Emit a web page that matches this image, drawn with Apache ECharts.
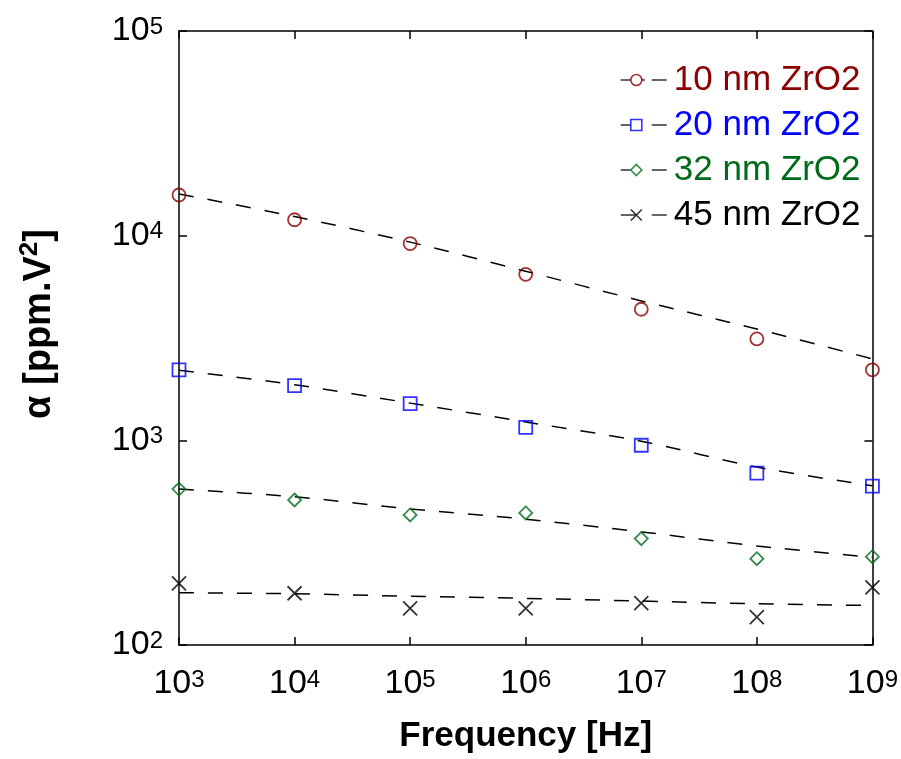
<!DOCTYPE html>
<html>
<head>
<meta charset="utf-8">
<script src="https://cdn.jsdelivr.net/npm/echarts@6/dist/echarts.min.js"></script>
<style>html,body{margin:0;padding:0;background:#fff;overflow:hidden;}#c{width:901px;height:759px;}</style>
</head>
<body>
<div id="c"></div>
<script>
const freqs = [1e3, 1e4, 1e5, 1e6, 1e7, 1e8, 1e9];
const seriesNames = ['10 nm ZrO2', '20 nm ZrO2', '32 nm ZrO2', '45 nm ZrO2'];
const colors = ['#8b0000', '#0000ff', '#006b1a', '#000000'];
const pts10 = [15800, 11960, 9150, 6470, 4370, 3130, 2210];
const pts20 = [2210, 1850, 1510, 1157, 946, 691, 598];
const pts32 = [578, 511, 432, 442, 331, 264, 270];
const pts45 = [200, 179, 151, 151, 160, 137, 191];
const fit10 = [16000, 12400, 9300, 6700, 4800, 3500, 2500];
const fit20 = [2200, 1870, 1520, 1230, 990, 740, 600];
const fit32 = [578, 530, 462, 412, 357, 305, 268];
const fit45 = [180, 178, 173, 169, 164, 159, 156];
const xTicks = [1e3, 1e4, 1e5, 1e6, 1e7, 1e8, 1e9];
const yTicks = [1e2, 1e3, 1e4, 1e5];

const points = [pts10, pts20, pts32, pts45];
const fits = [fit10, fit20, fit32, fit45];
const symbols = ['circle', 'rect', 'diamond', 'path://M0 0 L10 10 M10 0 L0 10'];
const sizes = [13, 13, 13, 14];
// legend glyph parts (bounding box forced to 0..48 x 0..11 by zero-length corner moves)
const BOX = 'M0 0 L0 0 M48 11 L48 11 ';
const markerIcons = [
  'path://' + BOX + 'M10 5.5 A5.5 5.5 0 1 0 21 5.5 A5.5 5.5 0 1 0 10 5.5 Z',
  'path://' + BOX + 'M10 0 L21 0 L21 11 L10 11 Z',
  'path://' + BOX + 'M10 5.5 L15.5 0 L21 5.5 L15.5 11 Z',
  'path://' + BOX + 'M10 0 L21 11 M10 11 L21 0'
];
const lineIcons = [
  'path://' + BOX + 'M0 5.5 L10 5.5 M21 5.5 L24 5.5 M31 5.5 L46 5.5',
  'path://' + BOX + 'M0 5.5 L10 5.5 M31 5.5 L46 5.5',
  'path://' + BOX + 'M0 5.5 L10 5.5 M31 5.5 L46 5.5',
  'path://' + BOX + 'M0 5.5 L15 5.5 M31 5.5 L46 5.5'
];

const FONT = 'Liberation Sans, Arial, sans-serif';
const expFmt = v => '{b|10}{s|' + Math.round(Math.log10(v)) + '}';
const labelRich = {
  b: {fontSize: 34, fontFamily: FONT, color: '#000', verticalAlign: 'bottom'},
  s: {fontSize: 24, fontFamily: FONT, color: '#000', verticalAlign: 'bottom', padding: [0, 0, 9, 0]}
};

const series = [];
fits.forEach((f, i) => {
  series.push({
    type: 'line', name: 'fit' + i, data: freqs.map((x, j) => [x, f[j]]),
    showSymbol: false, smooth: 0.3, silent: true,
    lineStyle: {color: '#000', width: 1.5, type: [15, 14]}, z: 2
  });
});
points.forEach((p, i) => {
  series.push({
    type: 'scatter', name: seriesNames[i], data: freqs.map((x, j) => [x, p[j]]),
    symbol: symbols[i], symbolSize: sizes[i],
    itemStyle: {color: 'rgba(0,0,0,0)', borderColor: colors[i], borderWidth: 1.8}, z: 3
  });
});

const legendBase = {
  orient: 'vertical', left: 615, top: 57, itemWidth: 48, itemHeight: 11, itemGap: 9,
  selectedMode: false,
  textStyle: {fontSize: 35, fontFamily: FONT, lineHeight: 36}
};

const chart = echarts.init(document.getElementById('c'));
chart.setOption({
  animation: false,
  backgroundColor: '#fff',
  grid: {left: 179, right: 23, top: 31, bottom: 109},
  legend: [
    Object.assign({}, legendBase, {
      z: 4,
      data: seriesNames.map((n, i) => ({
        name: n, icon: lineIcons[i],
        itemStyle: {color: 'rgba(0,0,0,0)', borderColor: '#000', borderWidth: 1.5},
        textStyle: {color: 'rgba(0,0,0,0)'}
      }))
    }),
    Object.assign({}, legendBase, {
      z: 5,
      data: seriesNames.map((n, i) => ({
        name: n, icon: markerIcons[i],
        itemStyle: {color: 'rgba(0,0,0,0)', borderColor: colors[i], borderWidth: 1.6},
        textStyle: {color: colors[i]}
      }))
    })
  ],
  xAxis: [{
    type: 'log', logBase: 10, min: 1e3, max: 1e9,
    name: 'Frequency [Hz]', nameLocation: 'middle', nameGap: 74,
    nameTextStyle: {fontSize: 35, fontWeight: 'bold', fontFamily: FONT, color: '#000'},
    axisLine: {lineStyle: {color: '#000', width: 1.5}},
    axisTick: {inside: true, length: 8, lineStyle: {color: '#000', width: 1.5}},
    minorTick: {show: false}, splitLine: {show: false},
    axisLabel: {margin: 22, formatter: expFmt, rich: labelRich, customValues: xTicks}
  }, {
    type: 'log', logBase: 10, min: 1e3, max: 1e9, position: 'top',
    axisLine: {lineStyle: {color: '#000', width: 1.5}},
    axisTick: {inside: true, length: 8, lineStyle: {color: '#000', width: 1.5}},
    axisLabel: {show: false}, splitLine: {show: false}
  }],
  yAxis: [{
    type: 'log', logBase: 10, min: 1e2, max: 1e5,
    name: '{a|α [ppm.V}{s|2}{a|]}', nameLocation: 'middle', nameGap: 120, nameRotate: 90,
    nameTextStyle: {
      padding: [0, 0, 0, 28],
      rich: {
        a: {fontSize: 38, fontWeight: 'bold', fontFamily: FONT, color: '#000', verticalAlign: 'bottom'},
        s: {fontSize: 26, fontWeight: 'bold', fontFamily: FONT, color: '#000', verticalAlign: 'bottom', padding: [0, 0, 16, 0]}
      }
    },
    axisLine: {lineStyle: {color: '#000', width: 1.5}},
    axisTick: {inside: true, length: 8, lineStyle: {color: '#000', width: 1.5}},
    splitLine: {show: false},
    axisLabel: {margin: 16, formatter: expFmt, rich: labelRich, customValues: yTicks}
  }, {
    type: 'log', logBase: 10, min: 1e2, max: 1e5, position: 'right',
    axisLine: {show: true, lineStyle: {color: '#000', width: 1.5}},
    axisTick: {show: true, inside: true, length: 8, lineStyle: {color: '#000', width: 1.5}},
    axisLabel: {show: false}, splitLine: {show: false}
  }],
  series: series
});
</script>
</body>
</html>
